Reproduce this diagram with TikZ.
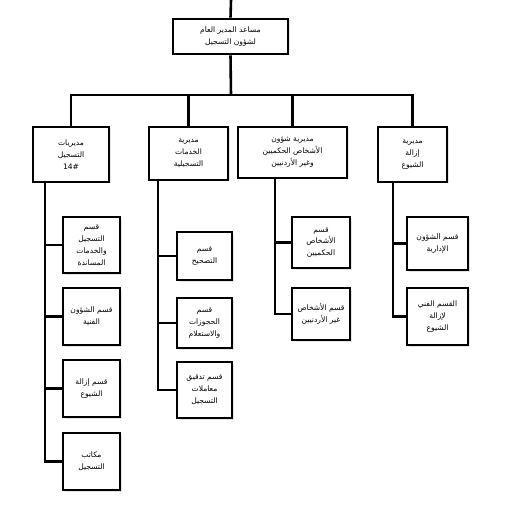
\documentclass[tikz,border=0pt]{standalone}
\usepackage{fontspec}
\newfontfamily\arabicfont[Script=Arabic]{DejaVu Sans}
\TeXXeTstate=1
\usetikzlibrary{shadows}
\newcommand*{\artx}[1]{\beginR #1\endR}

\begin{document}
\begin{tikzpicture}
[
	x=1bp, y=-1bp,
	unitbox/.style={draw,line width=2.6pt,fill=white,align=center,inner sep=0pt,
		drop shadow={opacity=0.2,shadow xshift=1.5bp,shadow yshift=-1.5bp},
		font=\arabicfont\fontsize{7.6}{12}\selectfont},
	link/.style={line width=2.6pt}
]
	\useasboundingbox[fill=white] (0,0) rectangle (530,530);

	% assistant director general
	\node[unitbox,minimum width=115bp,minimum height=35bp] (gm) at (230.5,36.5)
		{\artx{مساعد المدير العام}\\\artx{لشؤون التسجيل}};

	% directorates
	\node[unitbox,minimum width=76bp,minimum height=55bp] (d1) at (71,154.5)
		{\artx{مديريات}\\\artx{التسجيل}\\14\#};
	\node[unitbox,minimum width=79bp,minimum height=53bp] (d2) at (188.5,153.5)
		{\artx{مديرية}\\\artx{الخدمات}\\\artx{التسجيلية}};
	\node[unitbox,minimum width=109bp,minimum height=51bp] (d3) at (292.5,152.5)
		{\artx{مديرية شؤون}\\\artx{الأشخاص الحكميين}\\\artx{وغير الأردنيين}};
	\node[unitbox,minimum width=69bp,minimum height=55bp] (d4) at (412.5,154.5)
		{\artx{مديرية}\\\artx{إزالة}\\\artx{الشيوع}};

	% sections under d1
	\node[unitbox,minimum width=57bp,minimum height=56bp] (s11) at (91.5,245)
		{\artx{قسم}\\\artx{التسجيل}\\\artx{والخدمات}\\\artx{المساندة}};
	\node[unitbox,minimum width=57bp,minimum height=57bp] (s12) at (91.5,316.5)
		{\artx{قسم الشؤون}\\\artx{الفنية}};
	\node[unitbox,minimum width=57bp,minimum height=57bp] (s13) at (91.5,388.5)
		{\artx{قسم إزالة}\\\artx{الشيوع}};
	\node[unitbox,minimum width=57bp,minimum height=57bp] (s14) at (91.5,461.5)
		{\artx{مكاتب}\\\artx{التسجيل}};

	% sections under d2
	\node[unitbox,minimum width=55bp,minimum height=48bp] (s21) at (204.5,256)
		{\artx{قسم}\\\artx{التصحيح}};
	\node[unitbox,minimum width=55bp,minimum height=50bp] (s22) at (204.5,323)
		{\artx{قسم}\\\artx{الحجوزات}\\\artx{والاستعلام}};
	\node[unitbox,minimum width=55bp,minimum height=56bp] (s23) at (204.5,390)
		{\artx{قسم تدقيق}\\\artx{معاملات}\\\artx{التسجيل}};

	% sections under d3
	\node[unitbox,minimum width=58bp,minimum height=51bp] (s31) at (321,242.5)
		{\artx{قسم}\\\artx{الأشخاص}\\\artx{الحكميين}};
	\node[unitbox,minimum width=58bp,minimum height=52bp] (s32) at (321,314)
		{\artx{قسم الأشخاص}\\\artx{غير الأردنيين}};

	% sections under d4
	\node[unitbox,minimum width=61bp,minimum height=53bp] (s41) at (437.5,243.5)
		{\artx{قسم الشؤون}\\\artx{الإدارية}};
	\node[unitbox,minimum width=61bp,minimum height=57bp] (s42) at (437.5,316.5)
		{\artx{القسم الفني}\\\artx{لإزالة}\\\artx{الشيوع}};

	% top line and bus
	\coordinate (topend) at (231,0);
	\coordinate (bus) at (231,95);
	\draw[link] (topend) -- (gm.north);
	\draw[link] (gm.south) -- (bus);
	\draw[link] (d1.north) |- (bus) -| (d4.north);
	\draw[link] (bus -| d2.north) -- (d2.north);
	\draw[link] (bus -| d3.north) -- (d3.north);

	% column links
	\coordinate (c1) at ([xshift=-26bp]d1.south);
	\draw[link] (c1) |- (s14.west);
	\foreach \s in {s11,s12,s13}
		\draw[link] (c1 |- \s.west) -- (\s.west);

	\coordinate (c2) at ([xshift=-30.5bp]d2.south);
	\draw[link] (c2) |- (s23.west);
	\foreach \s in {s21,s22}
		\draw[link] (c2 |- \s.west) -- (\s.west);

	\coordinate (c3) at ([xshift=-17.5bp]d3.south);
	\draw[link] (c3) |- (s32.west);
	\draw[link] (c3 |- s31.west) -- (s31.west);

	\coordinate (c4) at ([xshift=-19.5bp]d4.south);
	\draw[link] (c4) |- (s42.west);
	\draw[link] (c4 |- s41.west) -- (s41.west);

\end{tikzpicture}
\end{document}
